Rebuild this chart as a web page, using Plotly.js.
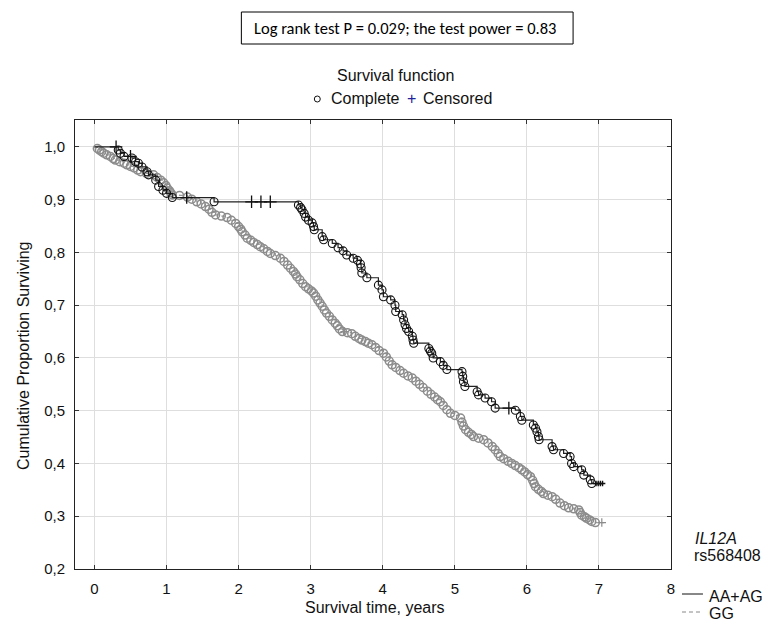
<!DOCTYPE html>
<html>
<head>
<meta charset="utf-8">
<script src="https://cdn.plot.ly/plotly-3.0.1.min.js"></script>
<style>html,body{margin:0;padding:0;background:#fff;}#chart{width:769px;height:626px;}</style>
</head>
<body>
<div id="chart"></div>
<script>
// ---- data ----
// AA+AG group (black): event times and survival after each event
var blackT = [0.33,0.36,0.41,0.52,0.57,0.61,0.66,0.73,0.75,0.85,0.89,0.95,1.00,1.08,1.66,
  2.83,2.86,2.88,2.91,2.93,2.97,3.02,3.04,3.05,3.16,3.18,3.30,3.38,3.45,3.50,3.59,3.65,3.69,3.70,3.71,3.78,
  3.94,3.99,4.01,4.11,4.17,4.18,4.27,4.29,4.31,4.33,4.36,4.41,4.42,4.43,
  4.64,4.66,4.68,4.70,4.80,4.84,4.89,5.10,5.11,5.12,5.14,5.31,5.33,5.42,5.51,5.56,
  5.84,5.91,5.93,6.09,6.12,6.14,6.16,6.17,6.35,6.37,6.51,6.60,6.62,6.65,6.76,6.79,6.88,6.90];
var blackS = [0.994,0.988,0.982,0.979,0.972,0.969,0.962,0.953,0.947,0.937,0.925,0.918,0.912,0.904,0.896,
  0.890,0.885,0.881,0.874,0.867,0.861,0.856,0.849,0.843,0.830,0.824,0.817,0.809,0.803,0.795,0.789,0.785,0.778,0.771,0.761,0.752,
  0.738,0.729,0.716,0.710,0.700,0.688,0.682,0.672,0.663,0.656,0.650,0.641,0.634,0.628,
  0.618,0.613,0.609,0.600,0.593,0.586,0.578,0.574,0.565,0.555,0.546,0.536,0.530,0.524,0.517,0.505,
  0.501,0.489,0.482,0.473,0.467,0.460,0.451,0.445,0.432,0.426,0.419,0.413,0.400,0.394,0.388,0.378,0.369,0.362];
var blackEnd = [7.06, 0.362];
var blackCensT = [0.30,0.50,1.28,2.18,2.31,2.44,5.75];
var blackCensS = [1.000,0.982,0.904,0.896,0.896,0.896,0.505];
var blackEndCensT = [6.96,6.99,7.02,7.05];
var blackEndCensS = [0.362,0.362,0.362,0.362];

// GG group (grey)
var greyT = [0.04,0.07,0.10,0.13,0.17,0.22,0.26,0.29,0.35,0.41,0.45,0.50,0.55,0.60,0.64,0.72,0.82,0.87,0.92,0.96,0.99,1.01,1.04,1.06,1.08,
  1.18,1.29,1.35,1.42,1.48,1.54,1.59,1.63,1.68,1.76,1.84,1.90,1.96,2.00,2.03,2.05,2.09,2.12,2.17,2.21,2.26,2.30,2.35,2.40,2.44,
  2.51,2.58,2.63,2.68,2.72,2.76,2.79,2.81,2.85,2.89,2.93,2.97,3.01,3.04,3.07,3.10,3.13,3.16,3.19,3.22,3.26,3.30,3.34,3.37,3.40,3.44,
  3.51,3.57,3.62,3.67,3.71,3.76,3.80,3.85,3.90,3.95,4.01,4.05,4.09,4.13,4.18,4.24,4.29,4.35,4.41,4.46,4.51,4.56,4.62,4.67,4.72,4.76,4.80,
  4.84,4.89,4.94,5.00,5.08,5.10,5.12,5.15,5.19,5.23,5.26,5.33,5.40,5.46,5.52,5.56,5.60,5.63,5.68,5.74,5.79,5.84,5.89,5.93,5.97,6.01,6.05,
  6.08,6.10,6.12,6.16,6.20,6.23,6.29,6.35,6.40,6.46,6.52,6.58,6.65,6.72,6.74,6.76,6.80,6.83,6.87,6.90,6.95];
var greyS = [0.997,0.994,0.991,0.988,0.985,0.982,0.978,0.975,0.972,0.969,0.966,0.963,0.960,0.956,0.953,0.950,0.947,0.942,0.937,0.932,0.927,0.922,0.917,0.913,0.909,
  0.908,0.905,0.901,0.896,0.892,0.887,0.882,0.876,0.871,0.869,0.866,0.861,0.855,0.849,0.844,0.839,0.833,0.827,0.823,0.819,0.815,0.811,0.807,0.802,0.798,
  0.794,0.789,0.783,0.776,0.770,0.764,0.759,0.754,0.748,0.741,0.735,0.731,0.727,0.723,0.717,0.710,0.704,0.698,0.691,0.685,0.679,0.672,0.666,0.661,0.655,0.650,
  0.648,0.646,0.641,0.637,0.634,0.631,0.628,0.625,0.620,0.614,0.609,0.602,0.594,0.587,0.582,0.576,0.571,0.566,0.562,0.556,0.550,0.544,0.537,0.531,0.526,0.521,0.517,
  0.510,0.502,0.495,0.491,0.486,0.478,0.471,0.464,0.459,0.455,0.451,0.448,0.445,0.439,0.432,0.426,0.419,0.413,0.409,0.404,0.400,0.396,0.392,0.388,0.384,0.379,0.375,
  0.368,0.362,0.356,0.351,0.347,0.343,0.340,0.337,0.332,0.325,0.320,0.316,0.314,0.312,0.307,0.302,0.299,0.296,0.293,0.290,0.288];
var greyEnd = [7.07, 0.288];
var greyCensT = [3.47,7.04];
var greyCensS = [0.650,0.288];

var xTickVals = [0,1,2,3,4,5,6,7,8];
var xTickText = ["0","1","2","3","4","5","6","7","8"];
var yTickVals = [0.2,0.3,0.4,0.5,0.6,0.7,0.8,0.9,1.0];
var yTickText = ["0,2","0,3","0,4","0,5","0,6","0,7","0,8","0,9","1,0"];

var titleText = "Log rank test P = 0.029; the test power = 0.83";
var legendTitle = "Survival function";
var legendItems = ["Complete", "Censored"];
var geneLabel = "IL12A";
var snpLabel = "rs568408";
var groupNames = ["AA+AG", "GG"];
var xTitle = "Survival time, years";
var yTitle = "Cumulative Proportion Surviving";

// ---- build ----
var FONT = "Liberation Sans, Arial, sans-serif";
var L = 74.5, R = 671, T = 120, B = 569;
function px(p){ return (p - L) / (R - L); }
function py(p){ return (B - p) / (B - T); }

var blackLineX = [0].concat(blackT, [blackEnd[0]]);
var blackLineY = [1].concat(blackS, [blackEnd[1]]);
var greyLineX = [0].concat(greyT, [greyEnd[0]]);
var greyLineY = [1].concat(greyS, [greyEnd[1]]);

var traces = [
  {x: greyLineX, y: greyLineY, mode: 'lines', line: {shape: 'hv', color: '#9a9a9a', width: 1.2, dash: '4px,3px'}, hoverinfo: 'skip'},
  {x: greyT, y: greyS, mode: 'markers', marker: {symbol: 'circle-open', size: 8, color: '#8c8c8c', line: {width: 1.5, color: '#8c8c8c'}}},
  {x: greyCensT, y: greyCensS, mode: 'markers', marker: {symbol: 'cross-thin-open', size: 6, color: '#8c8c8c', line: {width: 1.2, color: '#8c8c8c'}}},
  {x: blackLineX, y: blackLineY, mode: 'lines', line: {shape: 'hv', color: '#222', width: 1.2}, hoverinfo: 'skip'},
  {x: blackT, y: blackS, mode: 'markers', marker: {symbol: 'circle-open', size: 8, color: '#111', line: {width: 1.1, color: '#111'}}},
  {x: blackCensT, y: blackCensS, mode: 'markers', marker: {symbol: 'cross-thin-open', size: 9, color: '#111', line: {width: 1.3, color: '#111'}}},
  {x: blackEndCensT, y: blackEndCensS, mode: 'markers', marker: {symbol: 'cross-thin-open', size: 4, color: '#111', line: {width: 1.4, color: '#111'}}}
];

var axisCommon = {
  showgrid: true, gridcolor: '#dedede', gridwidth: 1,
  showline: true, linecolor: '#222', linewidth: 1, mirror: 'ticks',
  ticks: 'inside', ticklen: 4, tickcolor: '#333', tickwidth: 1,
  zeroline: false, tickfont: {family: FONT, size: 15, color: '#111'},
  tickmode: 'array', ticklabelstandoff: 6
};

var layout = {
  width: 769, height: 626,
  margin: {l: L, r: 769 - R, t: T, b: 626 - B, pad: 0},
  paper_bgcolor: '#fff', plot_bgcolor: '#fff',
  showlegend: false,
  xaxis: Object.assign({}, axisCommon, {range: [-0.27, 8.0], tickvals: xTickVals, ticktext: xTickText}),
  yaxis: Object.assign({}, axisCommon, {range: [0.2, 1.051], tickvals: yTickVals, ticktext: yTickText}),
  shapes: [
    {type: 'rect', xref: 'paper', yref: 'paper', x0: px(241), x1: px(573), y0: py(44), y1: py(12), line: {color: '#000', width: 1}},
    {type: 'circle', xref: 'paper', yref: 'paper', x0: px(314), x1: px(320), y0: py(102), y1: py(96), line: {color: '#111', width: 1}},
    {type: 'line', xref: 'paper', yref: 'paper', x0: px(682), x1: px(703), y0: py(594), y1: py(594), line: {color: '#111', width: 1}},
    {type: 'line', xref: 'paper', yref: 'paper', x0: px(682), x1: px(702), y0: py(612), y1: py(612), line: {color: '#888', width: 1, dash: '4px,3px'}}
  ],
  annotations: [
    {xref: 'paper', yref: 'paper', x: px(405), y: py(28), text: titleText, showarrow: false, xanchor: 'center', yanchor: 'middle',
     font: {family: 'Carlito, Lato, sans-serif', size: 16.5, color: '#000'}},
    {xref: 'paper', yref: 'paper', x: px(395), y: py(75), text: legendTitle, showarrow: false, xanchor: 'center', yanchor: 'middle',
     font: {family: FONT, size: 16, color: '#111'}},
    {xref: 'paper', yref: 'paper', x: px(329), y: py(99), text: legendItems[0], showarrow: false, xanchor: 'left', yanchor: 'middle',
     font: {family: FONT, size: 16, color: '#111'}},
    {xref: 'paper', yref: 'paper', x: px(411), y: py(99), text: '+', showarrow: false, xanchor: 'center', yanchor: 'middle',
     font: {family: FONT, size: 16, color: '#22229a'}},
    {xref: 'paper', yref: 'paper', x: px(421), y: py(99), text: legendItems[1], showarrow: false, xanchor: 'left', yanchor: 'middle',
     font: {family: FONT, size: 16, color: '#111'}},
    {xref: 'paper', yref: 'paper', x: px(22.5), y: py(356), text: yTitle, showarrow: false, textangle: -90, xanchor: 'center', yanchor: 'middle',
     font: {family: FONT, size: 16, color: '#111'}},
    {xref: 'paper', yref: 'paper', x: px(375), y: py(607), text: xTitle, showarrow: false, xanchor: 'center', yanchor: 'middle',
     font: {family: FONT, size: 16, color: '#111'}},
    {xref: 'paper', yref: 'paper', x: px(693), y: py(538), text: '<i>' + geneLabel + '</i>', showarrow: false, xanchor: 'left', yanchor: 'middle',
     font: {family: FONT, size: 16, color: '#111'}},
    {xref: 'paper', yref: 'paper', x: px(692), y: py(555), text: snpLabel, showarrow: false, xanchor: 'left', yanchor: 'middle',
     font: {family: FONT, size: 16, color: '#111'}},
    {xref: 'paper', yref: 'paper', x: px(707), y: py(596), text: groupNames[0], showarrow: false, xanchor: 'left', yanchor: 'middle',
     font: {family: FONT, size: 16, color: '#111'}},
    {xref: 'paper', yref: 'paper', x: px(707), y: py(613), text: groupNames[1], showarrow: false, xanchor: 'left', yanchor: 'middle',
     font: {family: FONT, size: 16, color: '#111'}}
  ]
};

Plotly.newPlot('chart', traces, layout, {displayModeBar: false, staticPlot: true});
</script>
</body>
</html>
